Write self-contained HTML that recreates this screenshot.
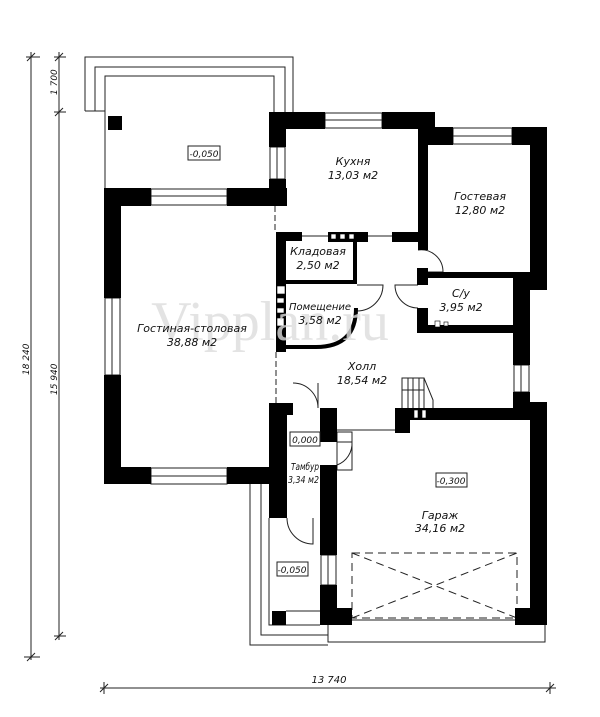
<!DOCTYPE html>
<html><head><meta charset="utf-8"><style>
html,body{margin:0;padding:0;background:#fff;}
svg{display:block;}
text{font-family:"DejaVu Sans","Liberation Sans",sans-serif;font-style:italic;fill:#111;}
</style></head><body>
<svg width="600" height="717" viewBox="0 0 600 717" xmlns="http://www.w3.org/2000/svg">
<g fill="none" stroke="#222" stroke-width="1">
<line x1="31" y1="52" x2="31" y2="660"/>
<line x1="26" y1="57" x2="40" y2="57"/><line x1="27" y1="61" x2="35" y2="53"/>
<line x1="24" y1="657" x2="40" y2="657"/><line x1="27" y1="661" x2="35" y2="653"/>
<line x1="59" y1="52" x2="59" y2="640"/>
<line x1="54" y1="57" x2="66" y2="57"/><line x1="55" y1="61" x2="63" y2="53"/>
<line x1="54" y1="112" x2="66" y2="112"/><line x1="55" y1="116" x2="63" y2="108"/>
<line x1="54" y1="636" x2="66" y2="636"/><line x1="55" y1="640" x2="63" y2="632"/>
<line x1="100" y1="688" x2="556" y2="688"/>
<line x1="104" y1="682" x2="104" y2="694"/><line x1="100" y1="692" x2="108" y2="684"/>
<line x1="550" y1="682" x2="550" y2="694"/><line x1="546" y1="692" x2="554" y2="684"/>
<polyline points="85,111 85,57 293,57 293,112"/>
<polyline points="95,111 95,67 285,67 285,112"/>
<polyline points="105,188 105,76 274,76 274,112"/>
<line x1="85" y1="111" x2="105" y2="111"/>
<rect x="325" y="113" width="57" height="15"/><line x1="325" y1="120" x2="382" y2="120"/>
<rect x="453" y="128" width="59" height="16"/><line x1="453" y1="136" x2="512" y2="136"/>
<rect x="270" y="147" width="15" height="32"/><line x1="277" y1="147" x2="277" y2="179"/>
<rect x="151" y="189" width="76" height="16"/><line x1="151" y1="196" x2="227" y2="196"/>
<rect x="151" y="468" width="76" height="16"/><line x1="151" y1="476" x2="227" y2="476"/>
<rect x="105" y="298" width="15" height="77"/><line x1="112" y1="298" x2="112" y2="375"/>
<rect x="514" y="365" width="15" height="27"/><line x1="521" y1="365" x2="521" y2="392"/>
<rect x="321" y="555" width="15" height="30"/><line x1="328" y1="555" x2="328" y2="585"/>
<line x1="275" y1="206" x2="275" y2="232" stroke-dasharray="6,3"/>
<line x1="276" y1="352" x2="276" y2="403" stroke-dasharray="6,3"/>
<line x1="302" y1="236" x2="328" y2="236"/><line x1="368" y1="236" x2="392" y2="236"/>
<polyline points="269,518 269,625 320,625"/>
<polyline points="261,484 261,635 328,635"/>
<polyline points="250,484 250,645 328,645"/>
<line x1="286" y1="611" x2="320" y2="611"/>
<line x1="337" y1="430" x2="395" y2="430"/>
<polyline points="328,625 328,642 545,642 545,625"/>
<line x1="337" y1="620" x2="530" y2="620"/>
<rect x="352" y="553" width="165" height="65" stroke-dasharray="8,5"/>
<line x1="352" y1="553" x2="517" y2="618" stroke-dasharray="8,5"/>
<line x1="352" y1="618" x2="517" y2="553" stroke-dasharray="8,5"/>
<rect x="402" y="378" width="22" height="31"/>
<line x1="408" y1="378" x2="408" y2="409"/><line x1="413" y1="378" x2="413" y2="409"/><line x1="419" y1="378" x2="419" y2="409"/>
<line x1="402" y1="390" x2="424" y2="390"/>
<polyline points="424,378 433,400 433,409 424,409"/>
<path d="M418,250 A22,22 0 0 1 443,272 L418,272"/>
<path d="M357,285 L383,285 A26,26 0 0 1 357,311"/>
<path d="M418,285 L395,285 A23,23 0 0 0 418,308"/>
<path d="M293,383 A25,25 0 0 1 318,408 L318,383"/>
<path d="M337,442 L352,442 A23,23 0 0 1 337,465"/>
<path d="M287,518 A26,26 0 0 0 313,544 L313,518"/>
<rect x="337" y="432" width="15" height="38"/>
</g>
<path d="M356,308 Q356,347 316,347 L286,347" fill="none" stroke="#000" stroke-width="4"/>
<g fill="#000">
<rect x="108" y="116" width="14" height="14"/>
<rect x="272" y="611" width="14" height="14"/>
<rect x="269" y="112" width="56" height="17"/>
<rect x="382" y="112" width="52" height="17"/>
<rect x="269" y="112" width="17" height="35"/>
<rect x="269" y="179" width="17" height="27"/>
<rect x="104" y="188" width="47" height="18"/>
<rect x="227" y="188" width="60" height="18"/>
<rect x="104" y="188" width="17" height="110"/>
<rect x="104" y="375" width="17" height="109"/>
<rect x="104" y="467" width="47" height="17"/>
<rect x="227" y="467" width="60" height="17"/>
<rect x="418" y="127" width="35" height="18"/>
<rect x="512" y="127" width="35" height="18"/>
<rect x="418" y="112" width="17" height="30"/>
<rect x="418" y="112" width="10" height="138"/>
<rect x="530" y="127" width="17" height="163"/>
<rect x="276" y="232" width="26" height="9"/>
<rect x="328" y="232" width="40" height="10"/>
<rect x="392" y="232" width="26" height="10"/>
<rect x="276" y="232" width="10" height="120"/>
<rect x="353" y="241" width="4" height="43"/>
<rect x="286" y="280" width="71" height="4"/>
<rect x="417" y="268" width="11" height="17"/>
<rect x="428" y="272" width="102" height="6"/>
<rect x="417" y="308" width="11" height="25"/>
<rect x="428" y="325" width="102" height="8"/>
<rect x="513" y="272" width="17" height="93"/>
<rect x="513" y="392" width="17" height="17"/>
<rect x="395" y="408" width="15" height="25"/>
<rect x="410" y="408" width="120" height="12"/>
<rect x="530" y="402" width="17" height="223"/>
<rect x="515" y="608" width="32" height="17"/>
<rect x="320" y="408" width="17" height="34"/>
<rect x="320" y="465" width="17" height="90"/>
<rect x="320" y="585" width="17" height="40"/>
<rect x="320" y="608" width="32" height="17"/>
<rect x="269" y="403" width="18" height="115"/>
<rect x="276" y="403" width="17" height="12"/>
<rect x="269" y="467" width="18" height="17"/>
</g>
<g fill="#fff" stroke="#000" stroke-width="0.6">
<rect x="331" y="234" width="5" height="5"/><rect x="340" y="234" width="5" height="5"/><rect x="349" y="234" width="5" height="5"/>
<rect x="277" y="286" width="8" height="8"/><rect x="277" y="298" width="7" height="5"/><rect x="277" y="308" width="7" height="5"/><rect x="277" y="318" width="7" height="8"/>
<rect x="435" y="321" width="5" height="6"/><rect x="444" y="322" width="4" height="4"/>
<rect x="414" y="410" width="4" height="8"/><rect x="422" y="410" width="4" height="8"/>
</g>
<text x="270" y="340" font-size="56" text-anchor="middle" style="fill:#ddd;font-style:normal;font-family:'Liberation Serif',serif;opacity:0.8">Vipplan.ru</text>
<g font-size="11" text-anchor="middle">
<text x="353" y="165">Кухня</text><text x="353" y="179">13,03 м2</text>
<text x="480" y="200">Гостевая</text><text x="480" y="214">12,80 м2</text>
<text x="318" y="255">Кладовая</text><text x="318" y="269">2,50 м2</text>
<text x="320" y="310" font-size="10">Помещение</text><text x="320" y="324">3,58 м2</text>
<text x="461" y="297">С/у</text><text x="461" y="311">3,95 м2</text>
<text x="192" y="332">Гостиная-столовая</text><text x="192" y="346">38,88 м2</text>
<text x="362" y="370">Холл</text><text x="362" y="384">18,54 м2</text>
<text x="440" y="519">Гараж</text><text x="440" y="532">34,16 м2</text>
</g>
<text x="291" y="470" font-size="10" textLength="28" lengthAdjust="spacingAndGlyphs">Тамбур</text>
<text x="288" y="483" font-size="10" textLength="31" lengthAdjust="spacingAndGlyphs">3,34 м2</text>
<g font-size="9" text-anchor="middle">
<text x="204" y="157">-0,050</text>
<text x="305" y="443">0,000</text>
<text x="451" y="484">-0,300</text>
<text x="292" y="573">-0,050</text>
<text x="329" y="683" font-size="10">13  740</text>
</g>
<g fill="none" stroke="#222" stroke-width="1">
<rect x="188" y="146" width="32" height="14"/>
<rect x="290" y="432" width="30" height="14"/>
<rect x="436" y="473" width="31" height="14"/>
<rect x="277" y="562" width="31" height="14"/>
</g>
<g font-size="9">
<text transform="translate(57,95) rotate(-90)">1  700</text>
<text transform="translate(57,395) rotate(-90)">15  940</text>
<text transform="translate(29,375) rotate(-90)">18  240</text>
</g>
</svg>
</body></html>
